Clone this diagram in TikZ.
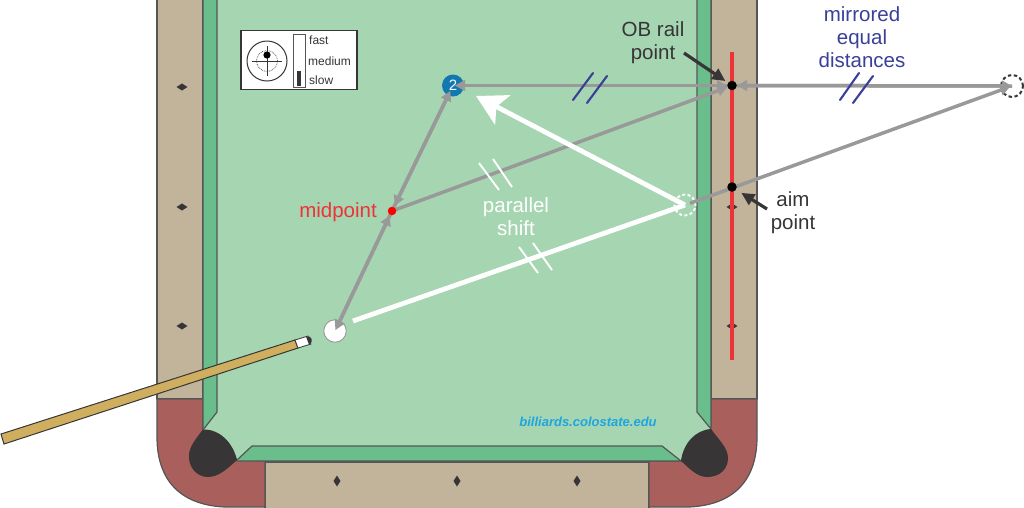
\documentclass[tikz,border=0pt]{standalone}
\usepackage{fontspec}
\setmainfont{Liberation Sans}
\usetikzlibrary{arrows.meta}
\definecolor{rail}{HTML}{C2B49A}
\definecolor{felt}{HTML}{A5D5B1}
\definecolor{cush}{HTML}{69BE8B}
\definecolor{corner}{HTML}{A9605C}
\definecolor{edge}{HTML}{555555}
\definecolor{pock}{HTML}{373536}
\definecolor{ray}{HTML}{999999}
\definecolor{navy}{HTML}{3A3F98}
\definecolor{redl}{HTML}{EE3338}
\definecolor{wood}{HTML}{CFAF5F}
\definecolor{web}{HTML}{1EA5E2}
\definecolor{obblue}{HTML}{1279B0}
\tikzset{
 x=1pt,y=-1pt,
 tbl/.style={draw=edge,line width=1.2pt,line join=round},
 dia/.style={fill=pock,draw=none},
 rayl/.style={draw=ray,line width=3.5pt},
 rayh/.style={-{Triangle[length=10pt,width=10.5pt]},rayl,shorten >=5pt},
 wline/.style={draw=white,line width=4.8pt},
 hashb/.style={draw=navy,line width=2.1pt,line cap=round},
 hashw/.style={draw=white,line width=1.9pt},
 lab/.style={font=\fontsize{20.5}{23}\selectfont,align=center,text=pock,inner sep=0pt},
 keytxt/.style={font=\fontsize{12}{13}\selectfont,text=pock,anchor=west,inner sep=0pt},
 dotk/.style={circle,fill=black,inner sep=0pt,minimum size=9.5pt},
 note/.style={-{Triangle[length=13pt,width=12pt]},draw=pock,line width=3.2pt,shorten >=3pt}
}
\begin{document}
\begin{tikzpicture}
\useasboundingbox (0,0) rectangle (1024,507);
% rails and corners
\fill[rail,tbl] (157,-3) rectangle (203,399);
\fill[rail,tbl] (711,-3) rectangle (757,399);
\fill[rail,tbl] (265,462) rectangle (649,510);
\fill[corner,tbl] (157,399) -- (203,399) -- (203,430) -- (237,460) -- (265,461) -- (265,507) -- (225,507) .. controls (180,505) and (157,480) .. (157,437) -- cycle;
\fill[corner,tbl] (757,399) -- (711,399) -- (711,430) -- (681,461) -- (649,461) -- (649,507) -- (689,507) .. controls (734,505) and (757,480) .. (757,437) -- cycle;
% cushion and felt
\fill[cush,tbl] (203,-3) -- (711,-3) -- (711,429) -- (681,461) -- (237,461) -- (203,430) -- cycle;
\fill[felt,tbl] (217,-3) -- (697,-3) -- (697,412) -- (711,429) -- (681,461) -- (662,446) -- (252,446) -- (237,460) -- (203,430) -- (217,412) -- cycle;
% pockets
\fill[pock] (203,429.5) .. controls (220,429) and (233,443) .. (237,460) .. controls (228,468) and (219,477) .. (208,477) .. controls (196,477) and (188,466) .. (189,455) .. controls (189,447) and (197,437) .. (203,429.5) -- cycle;
\fill[pock] (711,429) .. controls (695,430) and (683,444) .. (681,461) .. controls (689,468) and (697,477) .. (707,477) .. controls (720,477) and (728,469) .. (728,458) .. controls (728,448) and (719,440) .. (711,429) -- cycle;
% diamonds
\foreach \px/\py in {182/87,182/207,182/326,732/207,732/326}
  \fill[dia] (\px-5.5,\py) -- (\px,\py-3.5) -- (\px+5.5,\py) -- (\px,\py+3.5) -- cycle;
\foreach \px in {337,457,577}
  \fill[dia] (\px-3.5,481) -- (\px,475.5) -- (\px+3.5,481) -- (\px,486.5) -- cycle;
% key
\node[draw=pock,fill=white,line width=1.1pt,minimum width=116pt,minimum height=59pt,inner sep=0pt] (key) at (299,60) {};
\coordinate (kc) at (267,61);
\draw[pock,line width=1pt] (kc) circle[radius=20];
\draw[pock,line width=.7pt,densely dotted] (kc) circle[radius=10.5];
\draw[pock,line width=.6pt] (252,61) -- (282,61) (267,46) -- (267,76);
\fill[black] (267,55) circle[radius=3.6];
\draw[draw=edge,fill=white,line width=.9pt] (293,34) rectangle (305,87);
\fill[pock] (297,71) rectangle (301,86);
\node[keytxt] (kf) at (309,40) {fast};
\node[keytxt] (km) at (308,61) {medium};
\node[keytxt] (ks) at (309,80) {slow};
% red line
\draw[redl,line width=3.4pt] (732,52) -- (732,360);
% cue
\fill[wood,draw=pock,line width=1pt] (1,434) -- (295,340) -- (298,348) -- (4,444) -- cycle;
\fill[white,draw=pock,line width=.8pt] (295,340) -- (308,336) -- (311,344) -- (298,348) -- cycle;
\fill[pock] (306,336.5) .. controls (312,335) and (314,342) .. (309,344.5) -- (308,342) -- cycle;
% balls and points
\node[circle,fill=white,draw=ray,line width=.9pt,minimum size=22.5pt,inner sep=0pt] (cue) at (335,331) {};
\node[circle,draw=white,line width=1.9pt,dash pattern=on 3pt off 2.4pt,minimum size=21pt,inner sep=0pt] (ghost) at (685,205) {};
\node[circle,draw=pock,line width=2pt,dash pattern=on 3.4pt off 2.6pt,minimum size=22pt,inner sep=0pt] (mirror) at (1012,86) {};
\node[circle,fill=obblue,inner sep=0pt,minimum size=22pt,text=white,font=\fontsize{15}{15}\selectfont] (ob) at (453,85.5) {2};
% rays
\coordinate (m1) at (1012,86);
\coordinate (railp) at (732,85.5);
\coordinate (midp) at (392,211);
\coordinate (g1) at (690,203.3);
\draw[rayh] (m1) -- (railp);
\draw[rayh,shorten >=0pt] (railp) -- (m1);
\draw[rayh,shorten >=0pt] (railp) -- (455,85.5);
\draw[rayh] (ob) -- (railp);
\draw[rayh] (midp) -- (railp);
\draw[rayh,shorten >=6pt] (ob) -- (midp);
\draw[rayh,shorten >=6pt] (midp) -- (ob.center);
\draw[rayh,shorten >=5pt] (cue) -- (midp);
\draw[rayh,shorten >=1pt] (midp) -- (cue.center);
\draw[rayh,shorten >=2pt] (g1) -- (m1);
\node[circle,fill=red,inner sep=0pt,minimum size=8.5pt] (mid) at (midp) {};
\node[dotk] (rail) at (railp) {};
\node[dotk] (aim) at (732,187) {};
% white
\coordinate (ws) at (353,321);
\draw[wline] (ws) -- (ghost.center);
\coordinate (tip) at (476,96);
\draw[wline,-{Stealth[length=30pt,width=33pt,inset=7pt]}] (ghost.center) -- (tip);
% tick marks
\draw[hashb] (573,100) -- (593,73) (587,103) -- (607,76);
\draw[hashb] (840,100) -- (859,73) (853,103) -- (873,76);
\draw[hashw] (479,163) -- (499,190) (493,159) -- (512,187);
\draw[hashw] (519,247) -- (538,273) (533,243) -- (552,270);
% notes
\node[lab] (obt) at (653,43) {OB rail\\point};
\node[lab] (aimt) at (793,213) {aim\\point};
\node[lab,text=navy] (mt) at (862,37) {mirrored\\equal\\distances};
\node[lab,text=white] (pt) at (516,216.5) {parallel\\shift};
\node[lab,text=redl,anchor=east] (midt) at (377,212.5) {midpoint};
\node[font=\bfseries\itshape\fontsize{13}{14}\selectfont,text=web,inner sep=0pt] (web) at (588,422) {billiards.colostate.edu};
\coordinate (n1) at (684,53);
\coordinate (n2) at (767,209);
\draw[note] (n1) -- (rail);
\draw[note,shorten >=6pt] (n2) -- (aim);
\end{tikzpicture}
\end{document}
